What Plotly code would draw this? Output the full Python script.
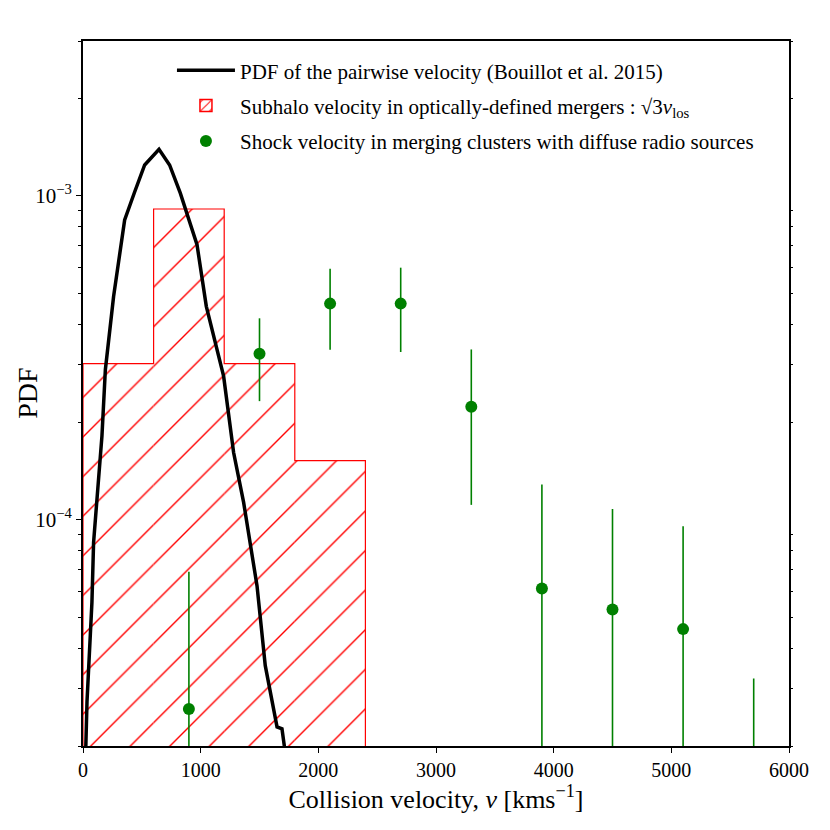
import plotly.graph_objects as go

# PDF of the pairwise velocity (black curve)
pdf_v = [15, 34, 76, 90, 161, 190, 260, 354, 438, 524, 646, 736, 827, 969, 1048,
         1195, 1280, 1365, 1479, 1549, 1649, 1691, 1711, 1730]
pdf_y = [1.5e-5, 2.74e-5, 5.56e-5, 8.51e-5, 1.81e-4, 2.90e-4, 4.88e-4, 8.41e-4,
         1.024e-3, 1.243e-3, 1.39e-3, 1.243e-3, 1.017e-3, 7.05e-4, 4.55e-4,
         2.77e-4, 1.61e-4, 1.13e-4, 6.24e-5, 3.54e-5, 2.29e-5, 2.26e-5, 2.0e-5, 1.5e-5]

# subhalo velocity histogram (density)
hist_edges = [0, 600, 1200, 1800, 2400]
hist_vals = [3.03e-4, 9.09e-4, 3.03e-4, 1.52e-4]

# shock velocities with errors
shock_v = [900, 1500, 2100, 2700, 3300, 3900, 4500, 5100, 5700]
shock_pdf = [2.6e-5, 3.25e-4, 4.64e-4, 4.64e-4, 2.23e-4, 6.13e-5, 5.28e-5, 4.59e-5, 1.3e-5]
shock_err = [4.3e-5, 0.93e-4, 1.3e-4, 1.35e-4, 1.12e-4, 6.7e-5, 5.5e-5, 4.95e-5, 1.93e-5]

font = "Liberation Serif"

fig = go.Figure()

# hatched bars (no outline)
centers = [(a + b) / 2 for a, b in zip(hist_edges[:-1], hist_edges[1:])]
widths = [b - a for a, b in zip(hist_edges[:-1], hist_edges[1:])]
hatch = dict(shape="/", fgcolor="red", fgopacity=1, bgcolor="rgba(255,255,255,0)",
             size=28, solidity=0.05)
fig.add_trace(go.Bar(x=centers, y=hist_vals, width=widths, opacity=1,
                     marker=dict(color="rgba(255,255,255,0)", line=dict(width=0), pattern=hatch),
                     showlegend=False, hoverinfo="skip"))

# step outline
step_x = [hist_edges[0], hist_edges[0]] + hist_edges[1:] + [hist_edges[-1]]
step_y = [1e-6] + hist_vals + [hist_vals[-1], 1e-6]
fig.add_trace(go.Scatter(x=step_x, y=step_y, mode="lines", line=dict(color="red", width=1.2, shape="hv"),
                         showlegend=False, hoverinfo="skip"))

# legend entry for histogram
fig.add_trace(go.Bar(x=[None], y=[None], opacity=1,
                     marker=dict(color="rgba(255,255,255,0)", line=dict(color="red", width=1.5),
                                 pattern=dict(hatch, size=8, solidity=0.15)),
                     name="Subhalo velocity in optically-defined mergers : √3<i>v</i><sub>los</sub>",
                     legendrank=2, legendgroup="b"))

fig.add_trace(go.Scatter(x=pdf_v, y=pdf_y, mode="lines", line=dict(color="black", width=3.5),
                         name="PDF of the pairwise velocity (Bouillot et al. 2015)",
                         legendrank=1, legendgroup="a"))

err_minus = [min(e, v - 1e-6) for v, e in zip(shock_pdf, shock_err)]
fig.add_trace(go.Scatter(x=shock_v, y=shock_pdf, mode="markers", yaxis="y2",
                         marker=dict(color="green", size=12),
                         error_y=dict(type="data", symmetric=False, array=shock_err, arrayminus=err_minus,
                                      color="green", thickness=1.6, width=0),
                         name="Shock velocity in merging clusters with diffuse radio sources",
                         legendrank=3, legendgroup="c"))

minor_vals = [m * 10 ** p for p in (-5, -4, -3) for m in range(2, 10)]
yrange = [-4.69897, -2.52288]

fig.update_layout(
    width=822, height=822,
    margin=dict(l=75, r=41, t=33, b=84),
    paper_bgcolor="white", plot_bgcolor="white",
    font=dict(family=font, size=21, color="black"),
    barmode="overlay",
    showlegend=True,
    legend=dict(x=0.126, y=0.987, xanchor="left", yanchor="top", bgcolor="rgba(0,0,0,0)",
                font=dict(size=21, family=font), tracegroupgap=5, itemwidth=58),
    xaxis=dict(range=[0, 6000], tickvals=[0, 1000, 2000, 3000, 4000, 5000, 6000],
               ticks="outside", ticklen=5, tickwidth=1.3, tickcolor="black",
               showline=True, linecolor="black", linewidth=2, mirror=True,
               showgrid=False, zeroline=False, tickfont=dict(size=20), automargin=False,
               title=dict(text="Collision velocity, <i>v</i> [kms<sup>−1</sup>]", font=dict(size=26), standoff=6)),
    yaxis=dict(type="log", range=yrange, tickvals=[1e-4, 1e-3],
               ticktext=["10<sup>−4</sup>", "10<sup>−3</sup>"],
               ticks="outside", ticklen=5, tickwidth=1.3, tickcolor="black",
               minor=dict(tickvals=minor_vals, ticks="outside", ticklen=3, tickwidth=1, tickcolor="black"),
               showline=True, linecolor="black", linewidth=2, mirror=True,
               showgrid=False, zeroline=False, tickfont=dict(size=21), automargin=False),
    yaxis2=dict(type="log", range=yrange, overlaying="y", side="right",
                tickvals=[], ticks="", showticklabels=False, showgrid=False, zeroline=False,
                minor=dict(tickvals=minor_vals, ticks="outside", ticklen=3, tickwidth=1, tickcolor="black")),
)

# y-axis title placed like the original
fig.add_annotation(text="PDF", xref="paper", yref="paper", x=-0.079, y=0.5,
                   xanchor="center", yanchor="middle", textangle=-90, showarrow=False,
                   font=dict(size=28, family=font))

fig.write_html("out.html")
